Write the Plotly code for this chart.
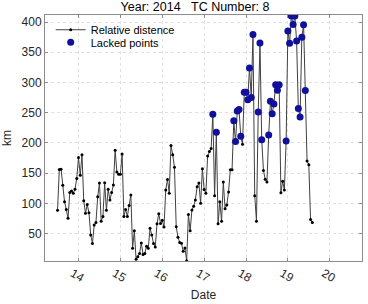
import plotly.graph_objects as go

# Hourly relative distance (km), starting at day 13.5
distance = [
    88.8, 156.2, 156.7, 129.9, 102.9, 89.9, 75.4, 117.9, 120.7, 116.9,
    123.4, 141.2, 176.1, 146.5, 180.5, 104.5, 83.5, 98.0, 84.6, 47.9,
    33.8, 64.1, 68.4, 111.0, 133.6, 70.5, 78.5, 134.1, 88.8, 123.4,
    105.6, 117.9, 130.4, 188.1, 151.9, 148.1, 148.1, 181.6, 78.5, 89.9,
    78.5, 96.4, 113.7, 25.8, 54.8, 7.5, 11.8, 17.2, 34.5, 15.6,
    17.2, 29.0, 25.8, 58.7, 47.9, 33.8, 28.0, 66.2, 83.0, 66.8,
    72.1, 60.8, 122.3, 139.6, 116.9, 195.8, 180.5, 159.8, 61.3, 44.2,
    35.5, 34.2, 20.9, 26.4, 5.1, 81.5, 54.8, 89.0, 95.1, 105.8,
    127.6, 133.6, 100.1, 157.4, 123.1, 116.9, 178.5, 185.8, 190.7, 247.3,
    112.6, 217.7, 66.2, 102.9, 70.5, 135.2, 91.1, 97.5, 119.0, 155.7,
    155.7, 236.6, 202.3, 252.7, 255.3, 210.9, 198.0, 284.0, 284.0, 271.5,
    323.9, 275.4, 379.3, 112.6, 70.5, 251.1, 365.3, 205.5, 154.6, 140.1,
    135.2, 213.3, 268.9, 248.4, 264.6, 296.4, 287.2, 296.4, 117.5, 136.8,
    122.3, 203.1, 385.3, 364.8, 410.0, 396.0, 410.0, 368.5, 257.0, 243.0,
    375.0, 395.5, 286.7, 170.3, 163.8, 73.3, 68.5,
]
start_day = 13.5
days = [start_day + h / 24 for h in range(len(distance))]

threshold = 200
lacked_x = [d for d, v in zip(days, distance) if v > threshold]
lacked_y = [v for v in distance if v > threshold]

x_ticks = [14, 15, 16, 17, 18, 19, 20]
x_labels = ["14", "15", "16", "17", "18", "19", "20"]
y_ticks = [50, 100, 150, 200, 250, 300, 350, 400]

fig = go.Figure()
fig.add_trace(go.Scatter(
    x=days, y=distance, mode="lines+markers", name="Relative distence",
    line=dict(color="#404040", width=1),
    marker=dict(color="black", size=3),
    legend="legend",
))
fig.add_trace(go.Scatter(
    x=lacked_x, y=lacked_y, mode="markers", name="Lacked points",
    marker=dict(color="#10109a", size=7),
    legend="legend2",
))

axis_common = dict(
    showline=True, linecolor="#8c8c8c", linewidth=1, mirror="ticks",
    ticks="inside", ticklen=3, tickcolor="#8c8c8c",
    showgrid=True, gridcolor="#e0e0e0", griddash="dot", gridwidth=1,
    zeroline=False,
    tickfont=dict(family="Liberation Sans, Arial", size=12, color="#262626"),
)

legend_common = dict(xanchor="left", yanchor="middle",
                     bgcolor="rgba(0,0,0,0)",
                     font=dict(family="Liberation Sans, Arial", size=11,
                               color="black"),
                     itemwidth=30)

fig.update_layout(
    width=368, height=304,
    margin=dict(l=39, r=5, t=15, b=37),
    paper_bgcolor="white", plot_bgcolor="white",
    font=dict(family="Liberation Sans, Arial", size=12, color="#262626"),
    title=dict(text="Year: 2014\u00a0\u00a0\u00a0TC Number: 8", x=0.53,
               xanchor="center", y=1 - 6.5 / 304, yanchor="middle",
               yref="container",
               font=dict(size=12.5, color="black")),
    showlegend=True,
    legend=dict(x=0.018, y=0.940, **legend_common),
    legend2=dict(x=0.018, y=0.889, **legend_common),
    xaxis=dict(range=[13.2, 20.77], tickvals=x_ticks, ticktext=x_labels,
               tickangle=30, ticklabelshift=-6, ticklabelstandoff=0,
               title=dict(text="Date", standoff=6,
                          font=dict(size=12, color="#262626")),
               **axis_common),
    yaxis=dict(range=[4.7, 411.7], tickvals=y_ticks,
               title=dict(text="km", standoff=8,
                          font=dict(size=12, color="#262626")),
               **axis_common),
)

fig.write_html("out.html",
               config={"displayModeBar": False},
               post_script="document.body.style.margin='0';"
                           "document.body.style.padding='0';")
